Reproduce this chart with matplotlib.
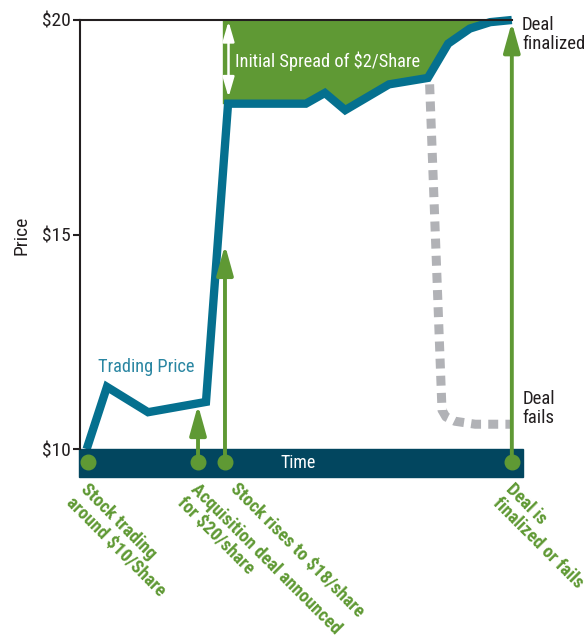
import matplotlib
matplotlib.use('Agg')
import matplotlib.pyplot as plt
from matplotlib import font_manager as fm

# trading price path (time in arbitrary units 0..100)
time = [1.5, 6.1, 15.4, 28.5, 33.5, 51.1, 55.4, 60.0, 69.9, 78.7, 83.3, 88.2, 92.8, 97.7]
price = [10.0, 11.45, 10.86, 11.1, 18.05, 18.05, 18.3, 17.9, 18.5, 18.65, 19.45, 19.8, 19.95, 20.0]

# path if the deal fails
fail_time = [79.1, 81.9, 82.8, 84.8, 89.4, 97.3]
fail_price = [18.5, 10.91, 10.75, 10.65, 10.58, 10.58]

deal_price = 20
spread_start = 32.2

# events on the time axis
event_time = [1.8, 26.7, 32.8, 97.7]
arrow_tip = [None, 11.03, 14.76, 19.95]
event_labels = ['Stock trading\naround $10/Share',
                'Acquisition deal announced\nfor $20/share',
                'Stock rises to $18/share',
                'Deal is\nfinalized or fails']

yticks = [10, 15, 20]
ytick_labels = ['$10', '$15', '$20']

teal = '#05708f'
navy = '#02465f'
green = '#5f9934'
gray = '#b1b2b6'
ink = '#231f20'


def pick_font():
    names = {f.name for f in fm.fontManager.ttflist}
    for name in ['Roboto Condensed', 'Liberation Sans Narrow']:
        if name in names:
            return name, 'normal'
    for f in fm.fontManager.ttflist:
        if f.name == 'DejaVu Sans' and f.stretch == 'condensed':
            return 'DejaVu Sans', 'condensed'
    return 'Roboto', 'normal'


font_name, font_stretch = pick_font()
plt.rcParams['font.family'] = [font_name, 'DejaVu Sans']
plt.rcParams['font.stretch'] = font_stretch

fig = plt.figure(figsize=(5.87, 6.35), dpi=100)
ax = fig.add_axes([80 / 587, 1 - 477 / 635, 442 / 587, 457 / 635])
ax.set_xlim(0, 100)
ax.set_ylim(9.35, 20)

# spread area
spread_t = [spread_start] + time[4:]
spread_p = [price[4]] + price[4:]
ax.fill_between(spread_t, spread_p, deal_price, color=green, lw=0, zorder=1)

ax.plot(fail_time, fail_price, color=gray, lw=6.5, dashes=(1.1, 0.8),
        dash_capstyle='butt', zorder=2, clip_on=False)
ax.plot(time, price, color=teal, lw=6, solid_joinstyle='miter',
        solid_capstyle='butt', zorder=3, clip_on=False)

# time bar
ax.axhspan(9.35, 10, xmin=-0.003, xmax=1.003, color=navy, zorder=4, clip_on=False)
ax.text(49.3, 9.56, 'Time', color='white', fontsize=13, ha='center', va='baseline', zorder=5)

# event arrows and dots
for t, tip in zip(event_time, arrow_tip):
    if tip is not None:
        ax.annotate('', xy=(t, tip), xytext=(t, 9.7),
                    arrowprops=dict(arrowstyle='-|>,head_length=1.8,head_width=0.5',
                                    color=green, lw=2.8, shrinkA=0, shrinkB=0),
                    zorder=6, annotation_clip=False)
ax.scatter(event_time, [9.7] * len(event_time), s=110, color=green, zorder=7, clip_on=False)

label_x = [2.1, 27.1, 36.0, 98.5]
for x, lab in zip(label_x, event_labels):
    ax.text(x, 9.28, lab, color=green, fontsize=13.3, fontweight='bold', rotation=-45,
            rotation_mode='anchor', ha='left', va='top', linespacing=1.1, clip_on=False)

# spread annotation
ax.annotate('', xy=(33.6, 19.97), xytext=(33.6, 18.2),
            arrowprops=dict(arrowstyle='<|-|>,head_length=1.2,head_width=0.35',
                            color='white', lw=1.8, shrinkA=0, shrinkB=0), zorder=5)
ax.text(35.1, 18.9, 'Initial Spread of \\$2/Share', color='white', fontsize=13.2,
        va='baseline', zorder=5)

ax.text(4.1, 11.8, 'Trading Price', color='#2a86a2', fontsize=13.2, va='baseline')
ax.text(100, 19.66, 'Deal\nfinalized', color=ink, fontsize=13.5, va='center', linespacing=1.1)
ax.text(100.2, 10.95, 'Deal\nfails', color=ink, fontsize=13.5, va='center', linespacing=1.1)

# axes styling
for side in ['right', 'bottom']:
    ax.spines[side].set_visible(False)
ax.spines['left'].set_bounds(10, 20)
ax.spines['top'].set_bounds(0, 97.7)
for side in ['left', 'top']:
    ax.spines[side].set_color(ink)
    ax.spines[side].set_linewidth(1.5)
    ax.spines[side].set_zorder(8)
ax.set_xticks([])
ax.set_yticks(yticks)
ax.set_yticklabels(ytick_labels)
ax.tick_params(axis='y', length=5, width=1.5, color=ink, labelsize=14, pad=2, labelcolor=ink)
fig.text(21 / 587, 1 - 235 / 635, 'Price', rotation=90, ha='center', va='center',
         fontsize=14, color=ink)

fig.savefig('out.png', dpi=100)
